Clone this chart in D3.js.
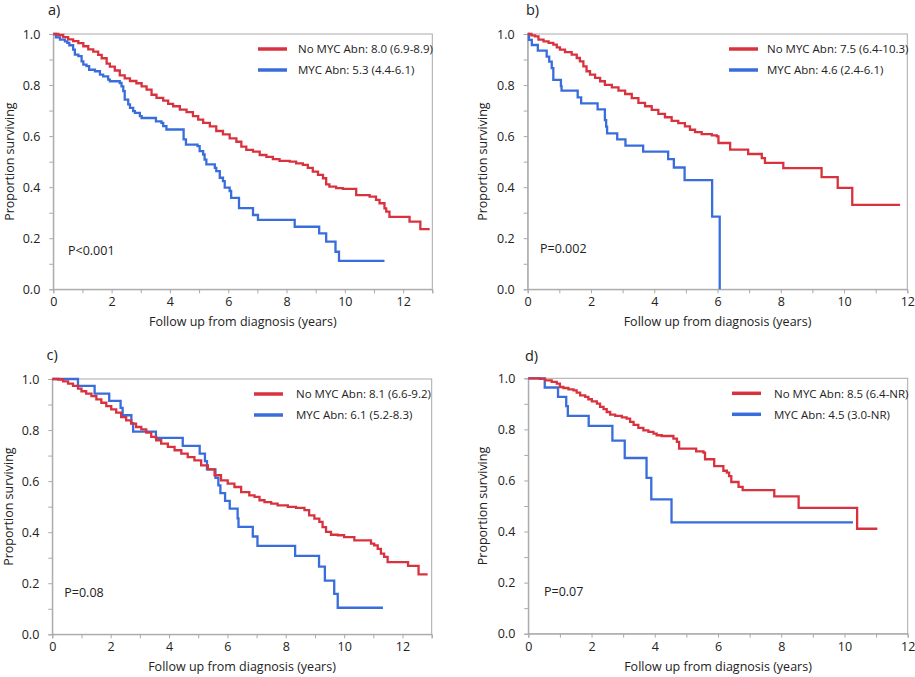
<!DOCTYPE html>
<html>
<head>
<meta charset="utf-8">
<script src="https://cdn.jsdelivr.net/npm/d3@7"></script>
<style>
  html, body { margin: 0; padding: 0; background: #fff; }
  svg { display: block; font-family: "Open Sans", "Noto Sans", sans-serif; }
</style>
</head>
<body>
<svg id="chart" width="915" height="677"></svg>
<script>
// ---------------- DATA (Kaplan-Meier steps: [time in years, proportion surviving]) ----------------
const panelLabels = ["a)", "b)", "c)", "d)"];
const pValues = ["P<0.001", "P=0.002", "P=0.08", "P=0.07"];
const legendNoMYC = ["No MYC Abn: 8.0 (6.9-8.9)", "No MYC Abn: 7.5 (6.4-10.3)", "No MYC Abn: 8.1 (6.6-9.2)", "No MYC Abn: 8.5 (6.4-NR)"];
const legendMYC = ["MYC Abn: 5.3 (4.4-6.1)", "MYC Abn: 4.6 (2.4-6.1)", "MYC Abn: 6.1 (5.2-8.3)", "MYC Abn: 4.5 (3.0-NR)"];
const xMax = [13, 12, 13, 12];
const yTicks = [0, 0.2, 0.4, 0.6, 0.8, 1.0];
const xTicksEven = [0, 2, 4, 6, 8, 10, 12];

const a_noMYC = [[0,1],[0.17,.996],[0.34,.988],[0.51,.979],[0.68,.972],[0.86,.964],[1.03,.952],[1.2,.94],[1.37,.931],[1.54,.918],[1.66,.905],[1.83,.884],[1.94,.872],[2.11,.857],[2.28,.838],[2.45,.826],[2.63,.816],[2.85,.807],[3.03,.795],[3.2,.782],[3.37,.762],[3.54,.75],[3.77,.739],[3.94,.726],[4.11,.717],[4.34,.704],[4.57,.694],[4.79,.678],[4.97,.665],[5.14,.652],[5.37,.638],[5.59,.62],[5.82,.607],[6.05,.591],[6.28,.578],[6.45,.559],[6.62,.546],[6.85,.539],[7.08,.526],[7.31,.519],[7.53,.51],[7.76,.503],[8.11,.5],[8.33,.493],[8.56,.487],[8.73,.476],[8.9,.461],[9.08,.448],[9.25,.435],[9.36,.411],[9.47,.402],[9.7,.396],[9.93,.393],[10.39,.369],[10.85,.363],[11.07,.35],[11.19,.337],[11.36,.317],[11.42,.304],[11.53,.284],[12.22,.265],[12.59,.236],[12.91,.236]];
const a_MYC = [[0,1],[0.09,.987],[0.23,.978],[0.4,.971],[0.48,.965],[0.55,.956],[0.68,.939],[0.74,.919],[0.86,.913],[0.97,.893],[1.03,.88],[1.14,.874],[1.23,.86],[1.43,.854],[1.6,.841],[1.71,.834],[1.88,.821],[1.94,.815],[2.28,.808],[2.34,.795],[2.4,.776],[2.45,.743],[2.57,.724],[2.63,.711],[2.74,.698],[2.8,.691],[2.97,.678],[3.03,.671],[3.52,.658],[3.71,.652],[3.77,.639],[3.88,.626],[4.47,.587],[4.55,.567],[4.95,.561],[5.02,.541],[5.14,.528],[5.19,.508],[5.25,.489],[5.54,.476],[5.59,.463],[5.71,.437],[5.82,.424],[5.88,.398],[6.05,.385],[6.1,.358],[6.37,.318],[6.85,.291],[7.02,.272],[8.28,.245],[9.12,.219],[9.36,.187],[9.68,.147],[9.8,.111],[11.36,.111]];

const b_noMYC = [[0,1],[0.12,.995],[0.23,.991],[0.34,.978],[0.5,.971],[0.66,.965],[0.81,.958],[0.92,.948],[1.02,.939],[1.18,.929],[1.39,.919],[1.55,.906],[1.65,.893],[1.76,.873],[1.86,.854],[1.97,.841],[2.13,.828],[2.29,.815],[2.44,.801],[2.66,.791],[2.87,.778],[3.08,.765],[3.29,.749],[3.5,.73],[3.71,.717],[3.92,.703],[4.13,.687],[4.34,.674],[4.55,.66],[4.76,.651],[4.97,.638],[5.13,.625],[5.29,.616],[5.5,.608],[5.82,.603],[5.98,.599],[6.03,.573],[6.4,.547],[6.97,.53],[7.4,.514],[7.5,.495],[8.08,.475],[9.29,.439],[9.8,.397],[10.26,.331],[11.77,.331]];
const b_MYC = [[0,1],[0.04,.977],[0.13,.957],[0.32,.935],[0.6,.911],[0.68,.892],[0.76,.866],[0.81,.82],[1.05,.796],[1.07,.778],[1.58,.752],[1.69,.728],[2.21,.705],[2.44,.663],[2.48,.637],[2.51,.611],[2.83,.587],[3.09,.563],[3.65,.539],[4.44,.51],[4.62,.477],[4.96,.428],[5.83,.285],[6.07,0]];

const c_noMYC = [[0,1],[0.2,.998],[0.37,.991],[0.54,.982],[0.71,.973],[0.88,.962],[1.0,.952],[1.16,.943],[1.34,.933],[1.51,.92],[1.68,.907],[1.85,.894],[2.02,.881],[2.19,.868],[2.36,.851],[2.53,.838],[2.7,.825],[2.87,.812],[3.05,.803],[3.22,.79],[3.39,.773],[3.56,.76],[3.73,.747],[3.96,.734],[4.19,.721],[4.42,.708],[4.64,.694],[4.87,.681],[5.1,.662],[5.33,.646],[5.56,.623],[5.78,.603],[6.01,.59],[6.24,.577],[6.47,.557],[6.75,.544],[6.93,.538],[7.1,.525],[7.27,.518],[7.5,.512],[7.72,.505],[8.07,.499],[8.35,.495],[8.64,.486],[8.8,.466],[8.98,.453],[9.15,.44],[9.26,.42],[9.38,.401],[9.55,.39],[9.78,.388],[10.0,.381],[10.35,.368],[10.92,.355],[11.03,.348],[11.15,.335],[11.26,.316],[11.37,.303],[11.49,.283],[12.19,.268],[12.55,.235],[12.86,.235]];
const c_MYC = [[0,1],[0.88,.973],[1.45,.943],[1.95,.914],[2.34,.887],[2.41,.858],[2.71,.827],[2.77,.794],[3.55,.769],[4.47,.738],[5.05,.708],[5.23,.678],[5.3,.646],[5.59,.613],[5.69,.583],[5.76,.553],[5.92,.523],[6.08,.492],[6.35,.454],[6.38,.421],[6.87,.383],[7.03,.346],[8.32,.307],[9.14,.265],[9.34,.21],[9.66,.158],[9.78,.104],[11.33,.104]];

const d_noMYC = [[0,1],[0.37,.998],[0.53,.992],[0.74,.986],[0.9,.979],[1.0,.966],[1.11,.962],[1.27,.957],[1.43,.953],[1.53,.944],[1.64,.933],[1.8,.927],[1.9,.918],[2.01,.91],[2.17,.901],[2.27,.888],[2.38,.879],[2.48,.868],[2.59,.858],[2.75,.853],[2.96,.847],[3.11,.842],[3.22,.829],[3.33,.818],[3.48,.806],[3.64,.796],[3.8,.79],[3.96,.783],[4.06,.777],[4.22,.774],[4.59,.764],[4.7,.751],[4.77,.725],[5.31,.714],[5.54,.709],[5.59,.683],[5.88,.656],[6.17,.638],[6.28,.631],[6.35,.617],[6.42,.594],[6.65,.575],[6.78,.562],[7.78,.538],[8.55,.493],[10.4,.411],[11.04,.411]];
const d_MYC = [[0,1],[0.52,.964],[0.94,.927],[1.2,.891],[1.25,.853],[1.91,.814],[2.66,.756],[3.05,.688],[3.74,.61],[3.89,.526],[4.53,.436],[10.27,.436]];

const noMYCSeries = [a_noMYC, b_noMYC, c_noMYC, d_noMYC];
const MYCSeries = [a_MYC, b_MYC, c_MYC, d_MYC];

// ---------------- LAYOUT ----------------
const RED = "#d9323f", BLUE = "#3a6ddc", FRAME = "#a9a9a9";
const boxes = [
  {l: 53.3, r: 432.3, t: 34, b: 289.3, labX: 48, labY: 15, yTitleX: 9, legLine: 258, legText: 298, pX: 68, pY: 254.5},
  {l: 527.7, r: 907.3, t: 34, b: 289.3, labX: 526, labY: 15, yTitleX: 482.5, legLine: 729, legText: 767, pX: 540, pY: 253},
  {l: 52.3, r: 431.7, t: 379, b: 634.3, labX: 46.5, labY: 360, yTitleX: 8, legLine: 254, legText: 296, pX: 64.3, pY: 597},
  {l: 528.3, r: 907.7, t: 378.3, b: 633.7, labX: 525, labY: 361, yTitleX: 482.5, legLine: 732, legText: 774, pX: 544, pY: 596}
];

const svg = d3.select("#chart");

boxes.forEach((bx, i) => {
  const x = d3.scaleLinear().domain([0, xMax[i]]).range([bx.l, bx.r]);
  const y = d3.scaleLinear().domain([0, 1]).range([bx.b, bx.t]);
  const g = svg.append("g");

  // frame
  g.append("rect").attr("x", bx.l).attr("y", bx.t).attr("width", bx.r - bx.l).attr("height", bx.b - bx.t)
    .attr("fill", "none").attr("stroke", FRAME).attr("stroke-width", 1);

  // x axis (major labelled even ticks + minor odd ticks)
  const xAxis = d3.axisBottom(x).tickValues(d3.range(0, xMax[i] + 0.001, 1)).tickSize(4).tickPadding(4)
    .tickFormat(d => (d % 2 === 0 ? d3.format("d")(d) : ""));
  const gx = g.append("g").attr("transform", `translate(0,${bx.b})`).call(xAxis);
  gx.select(".domain").attr("stroke", FRAME);
  gx.selectAll(".tick line").attr("stroke", FRAME);
  gx.selectAll(".tick text").attr("font-size", 12.5).attr("fill", "#222").attr("font-family", "'Open Sans', sans-serif");

  // y axis
  const yAxis = d3.axisLeft(y).tickValues(d3.range(0, 1.001, 0.1)).tickSize(4).tickPadding(9)
    .tickFormat(d => (Math.round(d * 10) % 2 === 0 ? d3.format(".1f")(d) : ""));
  const gy = g.append("g").attr("transform", `translate(${bx.l},0)`).call(yAxis);
  gy.select(".domain").attr("stroke", FRAME);
  gy.selectAll(".tick line").attr("stroke", FRAME);
  gy.selectAll(".tick text").attr("font-size", 12.5).attr("fill", "#222").attr("font-family", "'Open Sans', sans-serif");

  // axis titles
  g.append("text").attr("x", (bx.l + bx.r) / 2).attr("y", bx.b + 37).attr("text-anchor", "middle")
    .attr("font-size", 12.5).attr("fill", "#222").text("Follow up from diagnosis (years)");
  g.append("text").attr("transform", `translate(${bx.yTitleX + 4.5},${(bx.t + bx.b) / 2}) rotate(-90)`)
    .attr("text-anchor", "middle").attr("font-size", 12.5).attr("fill", "#222").text("Proportion surviving");

  // panel label
  g.append("text").attr("x", bx.labX).attr("y", bx.labY).attr("font-size", 14.5).attr("fill", "#222").text(panelLabels[i]);

  // curves
  const line = d3.line().x(d => x(d[0])).y(d => y(d[1])).curve(d3.curveStepAfter);
  g.append("path").datum(MYCSeries[i]).attr("d", line).attr("fill", "none").attr("stroke", BLUE).attr("stroke-width", 2.3);
  g.append("path").datum(noMYCSeries[i]).attr("d", line).attr("fill", "none").attr("stroke", RED).attr("stroke-width", 2.3);

  // legend
  const ly1 = bx.t + 15, ly2 = bx.t + 36;
  g.append("line").attr("x1", bx.legLine).attr("x2", bx.legLine + 29).attr("y1", ly1).attr("y2", ly1).attr("stroke", RED).attr("stroke-width", 3.5);
  g.append("line").attr("x1", bx.legLine).attr("x2", bx.legLine + 29).attr("y1", ly2).attr("y2", ly2).attr("stroke", BLUE).attr("stroke-width", 3.5);
  g.append("text").attr("x", bx.legText).attr("y", ly1 + 4.2).attr("font-size", 11.5).attr("fill", "#222").text(legendNoMYC[i]);
  g.append("text").attr("x", bx.legText).attr("y", ly2 + 4.2).attr("font-size", 11.5).attr("fill", "#222").text(legendMYC[i]);

  // p value
  g.append("text").attr("x", bx.pX).attr("y", bx.pY).attr("font-size", 12.5).attr("fill", "#222").text(pValues[i]);
});
</script>
</body>
</html>
